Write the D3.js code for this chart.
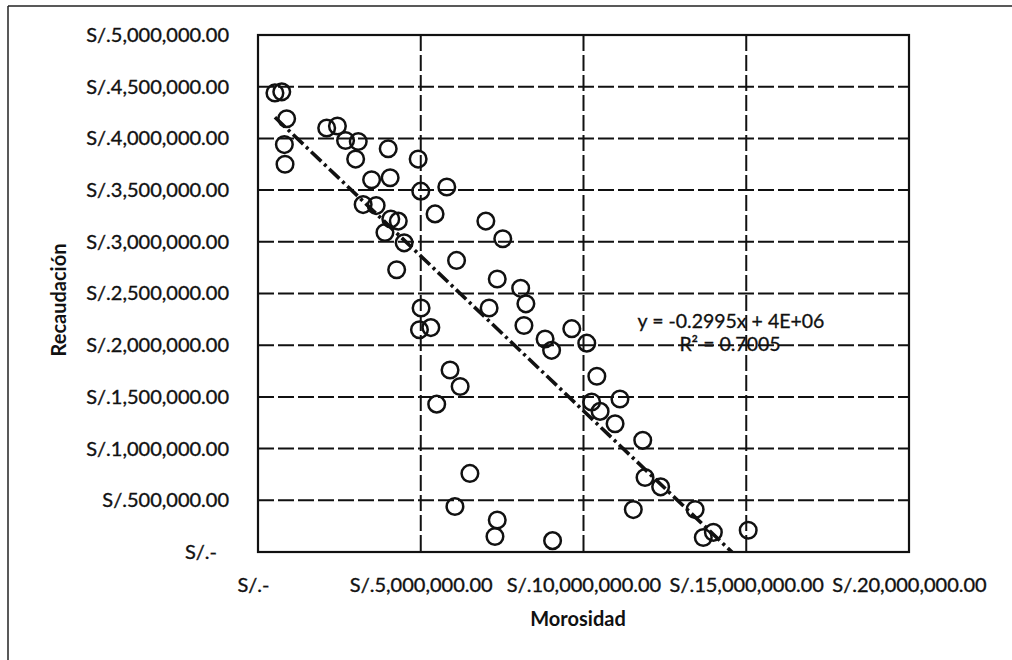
<!DOCTYPE html>
<html><head><meta charset="utf-8">
<script src="https://cdn.jsdelivr.net/npm/d3@7"></script>
<style>body{margin:0;background:#fff}svg{display:block}</style>
</head><body><svg id="c" width="1012" height="660"></svg>
<script>
const morosidad = [520000,730000,880000,810000,830000,2110000,2440000,2690000,3080000,4000000,
3000000,4920000,3490000,4060000,5000000,5800000,3230000,3630000,5440000,7000000,
7520000,4080000,4310000,3900000,4490000,6100000,4260000,7350000,8070000,8230000,
7100000,5010000,4960000,5310000,8170000,9640000,8820000,9020000,10100000,5900000,
6210000,5490000,10410000,10250000,11120000,10510000,10970000,11820000,6510000,11890000,
12370000,6050000,11530000,13430000,7350000,7280000,9050000,13680000,13990000,15060000];
const recaudacion = [4440000,4450000,4190000,3940000,3750000,4100000,4120000,3980000,3970000,3900000,
3800000,3800000,3600000,3620000,3490000,3530000,3360000,3350000,3270000,3200000,
3030000,3220000,3200000,3090000,2990000,2820000,2730000,2640000,2550000,2400000,
2360000,2360000,2150000,2170000,2190000,2160000,2060000,1950000,2020000,1760000,
1600000,1430000,1700000,1450000,1480000,1360000,1240000,1080000,760000,720000,
630000,440000,410000,410000,310000,150000,110000,140000,190000,210000];
const xTickValues = [0,5000000,10000000,15000000,20000000];
const yTickValues = [0,500000,1000000,1500000,2000000,2500000,3000000,3500000,4000000,4500000,5000000];
const trendSlope = -0.2995, trendIntercept = 4360000;
const eqLabel = "y = -0.2995x + 4E+06";
const r2Label = "R\u00B2 = 0.7005";
const xTitle = "Morosidad", yTitle = "Recaudación";

const svg = d3.select("#c");
const L=258,R=909,T=35,B=552;
const x = d3.scaleLinear().domain([0,20000000]).range([L,R]);
const y = d3.scaleLinear().domain([0,5000000]).range([B,T]);
const fmt = v => v===0 ? "S/.-" : "S/." + d3.format(",.2f")(v);
const FONT = "Lato, 'Open Sans', sans-serif";
const INK = "#111";

// outer frame
svg.append("line").attr("x1",8).attr("x2",1012).attr("y1",6).attr("y2",6).attr("stroke","#222").attr("stroke-width",1.5);
svg.append("line").attr("x1",8).attr("x2",8).attr("y1",6).attr("y2",660).attr("stroke","#222").attr("stroke-width",1.5);

// gridlines
svg.append("g").selectAll("line").data(yTickValues.filter(v=>v>0&&v<5000000)).join("line")
  .attr("x1",L).attr("x2",R).attr("y1",d=>y(d)).attr("y2",d=>y(d))
  .attr("stroke",INK).attr("stroke-width",2).attr("stroke-dasharray","16,4");
svg.append("g").selectAll("line").data(xTickValues.filter(v=>v>0&&v<20000000)).join("line")
  .attr("y1",T).attr("y2",B).attr("x1",d=>x(d)).attr("x2",d=>x(d))
  .attr("stroke",INK).attr("stroke-width",2).attr("stroke-dasharray","16,4");

// axes labels
const ya = svg.append("g").attr("transform",`translate(${L-26},0)`)
  .call(d3.axisLeft(y).tickValues(yTickValues).tickFormat(fmt).tickSize(0));
ya.select(".domain").remove();
ya.selectAll("text").attr("font-family",FONT).attr("font-size",20).attr("fill",INK)
  .attr("stroke",INK).attr("stroke-width",0.35).attr("dx",d=>d===0?-12:0);
const xa = svg.append("g").attr("transform",`translate(0,${B+31})`)
  .call(d3.axisBottom(x).tickValues(xTickValues).tickFormat(fmt).tickSize(0));
xa.select(".domain").remove();
xa.selectAll("text").attr("font-family",FONT).attr("font-size",20).attr("fill",INK)
  .attr("stroke",INK).attr("stroke-width",0.35).attr("dy","0.32em").attr("dx",d=>d===0?-5:0);

svg.append("text").attr("x",578).attr("y",621).attr("text-anchor","middle").attr("dominant-baseline","middle")
  .attr("font-family",FONT).attr("font-weight","bold").attr("font-size",20).attr("fill",INK).text(xTitle);
svg.append("text").attr("transform","translate(61,300) rotate(-90)").attr("text-anchor","middle").attr("dominant-baseline","middle")
  .attr("font-family",FONT).attr("font-weight","bold").attr("font-size",20).attr("fill",INK).text(yTitle);

// clip
svg.append("clipPath").attr("id","pc").append("rect").attr("x",L).attr("y",T).attr("width",R-L).attr("height",B-T);

// trendline
const xmin = d3.min(morosidad), xmax = d3.max(morosidad);
const tl = d3.line().x(d=>x(d)).y(d=>y(trendSlope*d+trendIntercept));
svg.append("path").attr("clip-path","url(#pc)").attr("d",tl([xmin,xmax]))
  .attr("fill","none").attr("stroke",INK).attr("stroke-width",3.6).attr("stroke-dasharray","14,4,3,4");

// points
svg.append("g").selectAll("circle").data(morosidad.map((m,i)=>[m,recaudacion[i]])).join("circle")
  .attr("cx",d=>x(d[0])).attr("cy",d=>y(d[1])).attr("r",8.3)
  .attr("fill","none").attr("stroke",INK).attr("stroke-width",2.5);

// plot border
svg.append("rect").attr("x",L).attr("y",T).attr("width",R-L).attr("height",B-T)
  .attr("fill","none").attr("stroke",INK).attr("stroke-width",2.2);

// equation
svg.append("text").attr("x",731).attr("y",323).attr("text-anchor","middle").attr("dominant-baseline","middle")
  .attr("font-family",FONT).attr("font-size",19.5).attr("fill",INK).attr("stroke",INK).attr("stroke-width",0.3).text(eqLabel);
svg.append("text").attr("x",730).attr("y",346).attr("text-anchor","middle").attr("dominant-baseline","middle")
  .attr("font-family",FONT).attr("font-size",19.5).attr("fill",INK).attr("stroke",INK).attr("stroke-width",0.3).text(r2Label);
</script></body></html>
